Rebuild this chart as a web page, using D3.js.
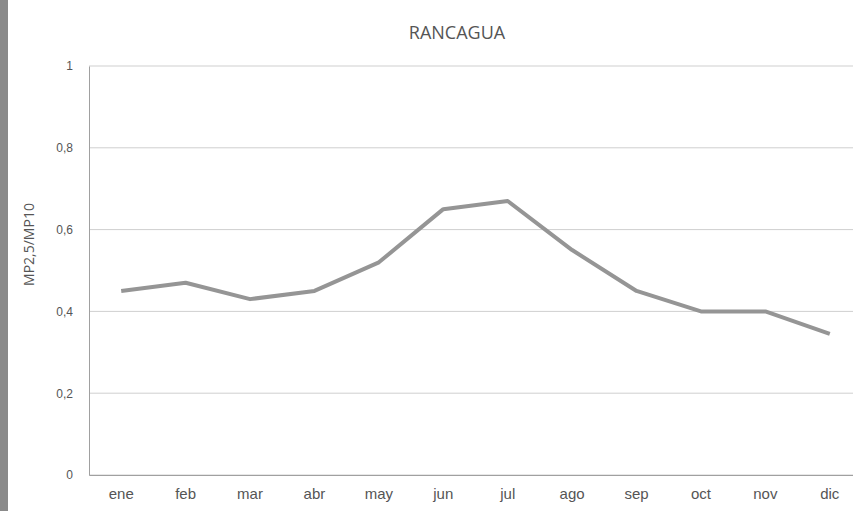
<!DOCTYPE html>
<html>
<head>
<meta charset="utf-8">
<script src="https://cdn.jsdelivr.net/npm/d3@7"></script>
<style>
  body { margin: 0; background: #fff; }
  svg { display: block; font-family: "Open Sans", Lato, sans-serif; }
</style>
</head>
<body>
<div id="chart-area"></div>
<script>
// datos
var months = ["ene", "feb", "mar", "abr", "may", "jun", "jul", "ago", "sep", "oct", "nov", "dic"];
var ratio = [0.45, 0.47, 0.43, 0.45, 0.52, 0.65, 0.67, 0.55, 0.45, 0.40, 0.40, 0.345];
var yTicks = [0, 0.2, 0.4, 0.6, 0.8, 1];

var W = 853, H = 511;
var margin = { left: 89, right: -9, top: 66, bottom: 36 };
var width = W - margin.left - margin.right;
var height = H - margin.top - margin.bottom;

var svg = d3.select("#chart-area").append("svg")
    .attr("width", W)
    .attr("height", H);

// borde oscuro del escaneo a la izquierda
svg.append("rect")
    .attr("x", 0).attr("y", 0)
    .attr("width", 8).attr("height", H)
    .attr("fill", "#8a8a8a");

var g = svg.append("g")
    .attr("transform", "translate(" + margin.left + "," + margin.top + ")");

var x = d3.scaleBand()
    .domain(months)
    .range([0, width]);

var y = d3.scaleLinear()
    .domain([0, 1])
    .range([height, 0]);

// lineas de grilla
g.selectAll(".grid")
    .data(yTicks)
    .enter().append("line")
    .attr("class", "grid")
    .attr("x1", 0).attr("x2", width)
    .attr("y1", d => y(d)).attr("y2", d => y(d))
    .attr("stroke", "#cfcfcf")
    .attr("stroke-width", 1);

// eje y
var yAxis = g.append("g")
    .call(d3.axisLeft(y).tickValues(yTicks).tickSize(0).tickPadding(16)
        .tickFormat(d => String(d).replace(".", ",")));
yAxis.select(".domain").attr("stroke", "#a0a0a0");
yAxis.selectAll("text").attr("fill", "#555").attr("font-size", "12px");

// eje x
var xAxis = g.append("g")
    .attr("transform", "translate(0," + height + ")")
    .call(d3.axisBottom(x).tickSize(0).tickPadding(13));
xAxis.select(".domain").attr("stroke", "#a0a0a0");
xAxis.selectAll("text").attr("fill", "#555").attr("font-size", "15px");

// linea
var line = d3.line()
    .x((d, i) => x(months[i]) + x.bandwidth() / 2)
    .y(d => y(d));

g.append("path")
    .datum(ratio)
    .attr("d", line)
    .attr("fill", "none")
    .attr("stroke", "#959595")
    .attr("stroke-width", 4)
    .attr("stroke-linejoin", "round");

// titulo
svg.append("text")
    .attr("x", 457)
    .attr("y", 39)
    .attr("text-anchor", "middle")
    .attr("font-size", "18px")
    .attr("fill", "#555")
    .text("RANCAGUA");

// titulo eje y
svg.append("text")
    .attr("transform", "translate(34," + (margin.top + height / 2 - 26) + ") rotate(-90)")
    .attr("text-anchor", "middle")
    .attr("font-size", "14px")
    .attr("fill", "#555")
    .text("MP2,5/MP10");
</script>
</body>
</html>
